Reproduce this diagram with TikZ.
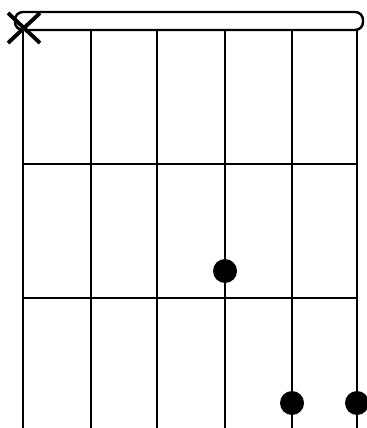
\documentclass[tikz,border=0pt]{standalone}
\usetikzlibrary{positioning,calc}
\definecolor{ink}{RGB}{0,0,0}
\tikzset{
  stringline/.style={draw=ink, line width=1.2pt},
  fretline/.style={draw=ink, line width=1.6pt},
  nutbar/.style={draw=ink, line width=1.4pt, rounded corners=4.5pt},
  fingerdot/.style={circle, fill=ink, inner sep=0pt, minimum size=0.48cm},
  mutemark/.style={draw=ink, line width=2.2pt},
}
\begin{document}
\begin{tikzpicture}[x=0.02cm, y=-0.02cm]
  \useasboundingbox (0,0) rectangle (366,428);

  % strings
  \foreach \s/\xs in {1/23, 2/91, 3/157, 4/225, 5/292, 6/357} {
    \coordinate (s\s top) at (\xs,30);
    \coordinate (s\s bot) at (\xs,440);
    \draw[stringline] (s\s top) -- (s\s bot);
  }

  % nut and frets
  \coordinate (nutnw) at (15,12);
  \coordinate (nutse) at (363,30);
  \draw[nutbar] (nutnw) rectangle (nutse);
  \foreach \f/\yf in {1/164, 2/298} {
    \coordinate (f\f west) at (23,\yf);
    \coordinate (f\f east) at (357,\yf);
    \draw[fretline] (f\f west) -- (f\f east);
  }

  % muted string
  \coordinate (xa) at (8,13);
  \coordinate (xb) at (40,43);
  \coordinate (xc) at (40,13);
  \coordinate (xd) at (8,43);
  \draw[mutemark] (xa) -- (xb);
  \draw[mutemark] (xc) -- (xd);

  % fingers
  \node[fingerdot] (d4) at (225,271) {};
  \node[fingerdot] (d5) at (292,403) {};
  \node[fingerdot] (d6) at (357,403) {};
\end{tikzpicture}
\end{document}
